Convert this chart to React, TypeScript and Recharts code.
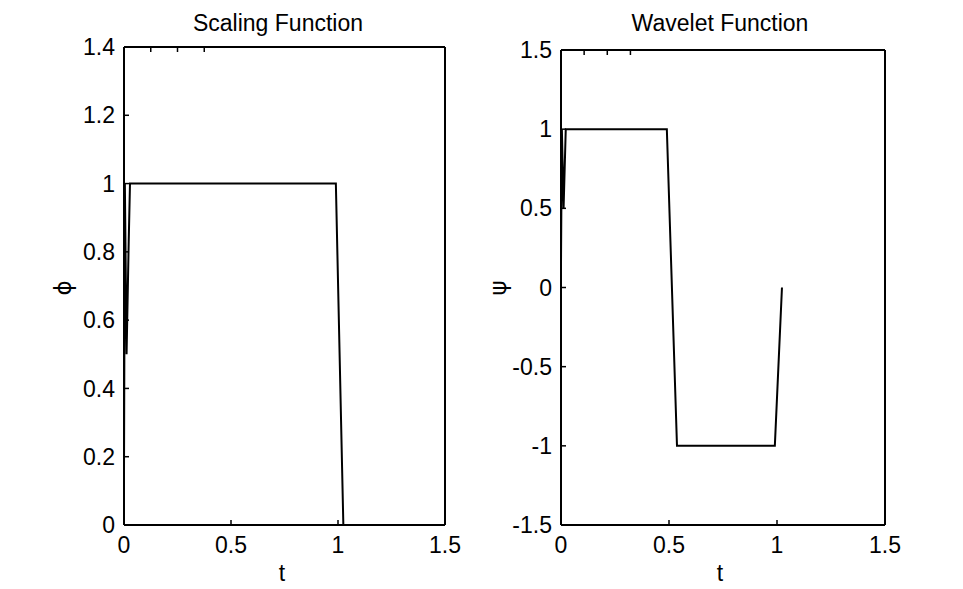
import { Line, LineChart, XAxis, YAxis } from 'recharts';

// Haar scaling function (as plotted by the cascade algorithm)
const scalingT = [0, 0.004, 0.012, 0.022, 0.028, 0.99, 1.025];
const scalingPhi = [0.15, 1, 0.5, 0.83, 1, 1, 0];

// Haar wavelet function
const waveletT = [0, 0.004, 0.012, 0.022, 0.49, 0.537, 0.99, 1.023];
const waveletPsi = [0.15, 1, 0.5, 1, 1, -1, -1, 0];

const xTicks = [0, 0.5, 1, 1.5];
const phiTicks = [0, 0.2, 0.4, 0.6, 0.8, 1, 1.2, 1.4];
const psiTicks = [-1.5, -1, -0.5, 0, 0.5, 1, 1.5];

const font = '"Liberation Sans", Arial, sans-serif';
const tickStyle = { fill: '#000', fontSize: 23, fontFamily: font };
const axisLine = { stroke: '#000', strokeWidth: 2 };
const tickLine = { stroke: '#000', strokeWidth: 1.5 };
const NoTick = () => <g />;

type PanelProps = {
	left: number;
	width: number;
	margin: { top: number; right: number; bottom: number; left: number };
	data: { t: number; v: number }[];
	yTicks: number[];
	yDomain: [number, number];
	title: string;
	titleX: number;
	yLabel: string;
	yLabelX: number;
	tX: number;
};

function Panel(p: PanelProps) {
	return (
		<>
			<div style={{ position: 'absolute', left: p.left, top: 0 }}>
				<LineChart width={p.width} height={589} data={p.data} margin={p.margin}>
					<XAxis
						xAxisId='b'
						dataKey='t'
						type='number'
						domain={[0, 1.5]}
						ticks={xTicks}
						allowDataOverflow
						height={40}
						tickSize={-5}
						tickMargin={17}
						tick={tickStyle}
						axisLine={axisLine}
						tickLine={tickLine}
					/>
					<XAxis
						xAxisId='t'
						orientation='top'
						type='number'
						domain={[0, 1.5]}
						ticks={xTicks}
						height={1}
						tickSize={-5}
						tick={NoTick}
						axisLine={axisLine}
						tickLine={tickLine}
					/>
					<YAxis
						yAxisId='l'
						type='number'
						domain={p.yDomain}
						ticks={p.yTicks}
						allowDataOverflow
						width={60}
						tickSize={-5}
						tickMargin={14}
						tick={tickStyle}
						axisLine={axisLine}
						tickLine={tickLine}
					/>
					<YAxis
						yAxisId='r'
						orientation='right'
						type='number'
						domain={p.yDomain}
						ticks={p.yTicks}
						width={5}
						tickSize={-5}
						tick={NoTick}
						axisLine={axisLine}
						tickLine={tickLine}
					/>
					<Line
						xAxisId='b'
						yAxisId='l'
						dataKey='v'
						type='linear'
						stroke='#000'
						strokeWidth={2}
						dot={false}
						isAnimationActive={false}
					/>
				</LineChart>
			</div>
			<div
				style={{
					position: 'absolute',
					left: p.titleX - 150,
					width: 300,
					top: 8,
					textAlign: 'center',
					fontFamily: font,
					fontSize: 23,
					lineHeight: '30px',
				}}
			>
				{p.title}
			</div>
			<div
				style={{
					position: 'absolute',
					left: p.tX - 20,
					width: 40,
					top: 558,
					textAlign: 'center',
					fontFamily: font,
					fontSize: 23,
					lineHeight: '30px',
				}}
			>
				t
			</div>
			<div
				style={{
					position: 'absolute',
					left: p.yLabelX - 20,
					width: 40,
					top: 273,
					textAlign: 'center',
					fontFamily: '"DejaVu Sans", sans-serif',
					fontSize: 23,
					lineHeight: '30px',
					transform: 'rotate(-90deg)',
				}}
			>
				{p.yLabel}
			</div>
		</>
	);
}

export default function App() {
	const scalingData = scalingT.map((t, i) => ({ t, v: scalingPhi[i] }));
	const waveletData = waveletT.map((t, i) => ({ t, v: waveletPsi[i] }));
	return (
		<div style={{ position: 'absolute', left: 0, top: 0, width: 963, height: 589, background: '#fff', overflow: 'hidden' }}>
			<Panel
				left={0}
				width={480}
				margin={{ top: 46, right: 30, bottom: 24, left: 64 }}
				data={scalingData}
				yTicks={phiTicks}
				yDomain={[0, 1.4]}
				title='Scaling Function'
				titleX={278}
				yLabel='ϕ'
				yLabelX={63}
				tX={282}
			/>
			<Panel
				left={480}
				width={483}
				margin={{ top: 49, right: 73, bottom: 24, left: 21 }}
				data={waveletData}
				yTicks={psiTicks}
				yDomain={[-1.5, 1.5]}
				title='Wavelet Function'
				titleX={720}
				yLabel='ψ'
				yLabelX={498}
				tX={720}
			/>
		</div>
	);
}
